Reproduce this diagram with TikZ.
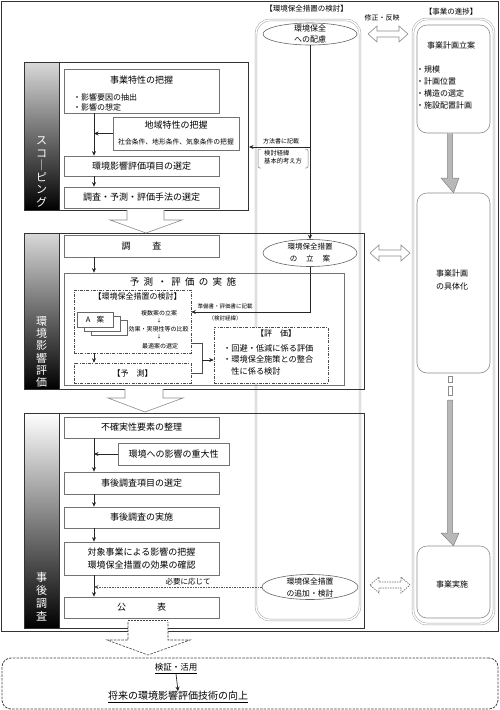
\documentclass[tikz,border=0pt]{standalone}
\usepackage{fontspec}
\newfontfamily\jp{Noto Sans CJK JP}
\usetikzlibrary{arrows.meta,calc,shapes.geometric}
\newcommand{\dbarrow}[4][]{%
  \draw[openarr,#1] (#2,#4) -- (#2+9,#4-8) -- (#2+9,#4-3) -- (#3-9,#4-3) -- (#3-9,#4-8) -- (#3,#4)
    -- (#3-9,#4+8) -- (#3-9,#4+3) -- (#2+9,#4+3) -- (#2+9,#4+8) -- cycle;}
\begin{document}
\begin{tikzpicture}[x=1pt,y=-1pt,
  every node/.style={inner sep=0pt, font=\jp},
  fs/.style={font=\jp\fontsize{#1}{#1}\selectfont},
  secbox/.style={draw=black!80, line width=1pt},
  ibox/.style={draw=black!55, line width=0.7pt, fill=white},
  colbox/.style={draw=black!35, line width=0.5pt, double=white, double distance=1.4pt, rounded corners=14pt},
  rbox/.style={draw=black!45, line width=0.6pt, rounded corners=10pt, fill=white},
  ell/.style={ellipse, draw=black!60, line width=0.6pt, fill=white},
  arr/.style={-{Stealth[length=4.5pt,width=4pt]}, line width=0.7pt, black!85},
  dd/.style={draw=black!70, line width=0.6pt, dash pattern=on 3pt off 1.2pt on 1pt off 1.2pt},
  openarr/.style={draw=black!45, line width=0.6pt, fill=white},
  grayarr/.style={draw=black!50, line width=0.5pt, fill=black!28},
  vtxt/.style={text=white, align=center, font=\jp\fontsize{11}{12.3}\selectfont}]
\useasboundingbox (0,0) rectangle (500,710);

% outer frame
\draw[black!80, line width=1pt] (1,1) rectangle (498,631);

% columns
\draw[colbox] (256,20) rectangle (360,620);
\draw[colbox] (413,19) rectangle (494,624);
\node[fs=7.5] (lab1) at (306.5,9) {【環境保全措置の検討】};
\node[fs=7.5] (lab2) at (451,12) {【事業の進捗】};
\node[fs=7] (lab3) at (382,18) {修正・反映};

% section bars
\shade[top color=black!15, bottom color=black] (24,62) rectangle (59,210);
\shade[top color=black!15, bottom color=black] (24,233) rectangle (59,389);
\shade[top color=white, bottom color=black] (24,413) rectangle (59,628);
\node[secbox, minimum width=224pt, minimum height=148pt, anchor=north west] (s1) at (24,62) {};
\node[secbox, minimum width=340pt, minimum height=156pt, anchor=north west] (s2) at (24,233) {};
\node[secbox, minimum width=340pt, minimum height=215pt, anchor=north west] (s3) at (24,413) {};
\draw[black!80, line width=1pt] (59,62) -- (59,210) (59,233) -- (59,389) (59,413) -- (59,628);
\node[vtxt] (v1) at (41.5,172) {ス\\コ\\｜\\ピ\\ン\\グ};
\node[vtxt] (v2) at (41.5,352) {環\\境\\影\\響\\評\\価};
\node[vtxt, font=\jp\fontsize{11}{13}\selectfont] (v3) at (41.5,597) {事\\後\\調\\査};

\coordinate (vx) at (94,0);

% ---- scoping
\node[ibox, minimum width=155pt, minimum height=44pt] (b1) at (141.5,91) {};
\node[fs=9] (b1t) at (141.5,80) {事業特性の把握};
\node[anchor=west, align=left, font=\jp\fontsize{8}{10}\selectfont] (b1a) at (73,102) {・影響要因の抽出\\・影響の想定};
\node[ibox, minimum width=126pt, minimum height=33pt] (b2) at (176,133.5) {};
\node[fs=9] (b2t) at (176,125) {地域特性の把握};
\node[fs=6.8] (b2s) at (176,141.5) {社会条件、地形条件、気象条件の把握};
\node[ibox, minimum width=155pt, minimum height=20pt, fs=9] (b3) at (141.5,166) {環境影響評価項目の選定};
\node[ibox, minimum width=155pt, minimum height=21pt, fs=9] (b4) at (141.5,197.5) {調査・予測・評価手法の選定};
\draw[arr] (b1.south -| vx) -- (b3.north -| vx);
\draw[arr] (b2.west) -- (b2.west -| vx);
\draw[arr] (b3.south -| vx) -- (b4.north -| vx);

\draw[openarr] (127,210) -- (127,220) -- (110,220) -- (146,233) -- (182,220) -- (164,220) -- (164,210);

% ---- assessment
\node[ibox, minimum width=155pt, minimum height=22pt, fs=9] (b5) at (141.5,246) {調\hspace{22pt}査};
\node[draw=black!55, line width=0.7pt, minimum width=280pt, minimum height=112pt] (b6) at (204,329) {};
\node[fs=9.5] (b6t) at (183,282) {予\hspace{4.3pt}測\hspace{4.3pt}・\hspace{4.3pt}評\hspace{4.3pt}価\hspace{4.3pt}の\hspace{4.3pt}実\hspace{4.3pt}施};
\draw[arr] (b5.south -| vx) -- (b6.north -| vx);

\node[dd, fill=white, minimum width=117pt, minimum height=63pt] (b7) at (132.5,321.5) {};
\node[fs=8] (b7t) at (137.5,296.5) {【環境保全措置の検討】};
\draw[black!60, fill=white, line width=0.5pt] (91,320) rectangle (127,335);
\draw[black!60, fill=white, line width=0.5pt] (84,316) rectangle (120,331);
\node[draw=black!60, fill=white, line width=0.5pt, minimum width=36pt, minimum height=15pt, fs=7.5] (aan) at (95,319.5) {A\hspace{6pt}案};
\node[fs=6] (k1) at (159,313) {複数案の立案};
\node[fs=5] (k2) at (159,321) {↓};
\node[fs=6] (k3) at (158.5,329) {効果・実現性等の比較};
\node[fs=5] (k4) at (159,337) {↓};
\node[fs=6] (k5) at (160,346) {最適案の選定};

\node[dd, fill=white, minimum width=117pt, minimum height=20pt, fs=8] (b8) at (132.5,373) {【予\hspace{8pt}測】};
\draw[arr] (b7.south -| vx) -- (b8.north -| vx);

\node[dd, fill=white, minimum width=114pt, minimum height=56pt] (b9) at (271,355) {};
\node[fs=8] (b9t) at (276,333) {【評\hspace{8pt}価】};
\node[anchor=west, align=left, font=\jp\fontsize{8.2}{11.5}\selectfont] (b9a) at (223,359.5) {・回避・低減に係る評価\\・環境保全施策との整合\\\hspace{8.2pt}性に係る検討};

\coordinate (by1) at (0,343);
\coordinate (brk) at (202,360);
\draw[black!70, line width=0.6pt] (b7.east |- by1) -- (202,343) -- (202,373) -- (b8.east);
\draw[arr] (brk) -- (brk -| b9.west);

\draw[openarr] (125,389) -- (125,398) -- (108,398) -- (145,412) -- (183,398) -- (163,398) -- (163,389);

% ---- middle column
\node[ell, minimum width=94pt, minimum height=22pt] (e1) at (310,34) {};
\node[align=center, font=\jp\fontsize{8}{11}\selectfont] (e1t) at (310,34) {環境保全\\への配慮};
\node[ell, minimum width=94pt, minimum height=27pt] (e2) at (310,253) {};
\node[align=center, font=\jp\fontsize{7.5}{12}\selectfont] (e2t) at (310,252.5) {環境保全措置\\の\hspace{9pt}立\hspace{9pt}案};
\node[ell, minimum width=96pt, minimum height=25pt] (e3) at (310,587) {};
\node[align=center, font=\jp\fontsize{7.8}{12}\selectfont] (e3t) at (310,588) {環境保全措置\\の追加・検討};

\draw[arr] (e1.south) -- (e2.north);
\coordinate (m1) at (310,147);
\draw[arr] (m1) -- (m1 -| s1.east);
\node[fs=6] (hou) at (281,141.5) {方法書に記載};
\node[anchor=west, align=left, font=\jp\fontsize{6.3}{8.5}\selectfont] (kei) at (264,157) {検討経緯\\基本的考え方};
\draw[black!50, line width=0.5pt, rounded corners=2pt] (261,149) -- (258,149) -- (258,168) -- (261,168);
\draw[black!50, line width=0.5pt, rounded corners=2pt] (305,149) -- (308,149) -- (308,168) -- (305,168);

\coordinate (m2) at (310,312);
\draw[arr] (e2.south) -- (m2) -- (m2 -| b7.east);
\node[fs=5.5] (jun) at (225,306.5) {準備書・評価書に記載};
\node[fs=5.5] (kk) at (225,318.5) {（検討経緯）};

% ---- follow-up
\node[ibox, minimum width=155pt, minimum height=21pt, fs=9] (b10) at (141.5,427.5) {不確実性要素の整理};
\node[ibox, minimum width=111pt, minimum height=22pt, fs=9] (b11) at (173.5,454) {環境への影響の重大性};
\node[ibox, minimum width=155pt, minimum height=22pt, fs=9] (b12) at (141.5,483) {事後調査項目の選定};
\node[ibox, minimum width=155pt, minimum height=21pt, fs=9] (b13) at (141.5,517.5) {事後調査の実施};
\node[ibox, minimum width=155pt, minimum height=33pt, align=center, font=\jp\fontsize{9}{13}\selectfont] (b14) at (141.5,558.5) {対象事業による影響の把握\\環境保全措置の効果の確認};
\node[ibox, minimum width=155pt, minimum height=21pt, fs=9] (b15) at (141.5,607.5) {公\hspace{31pt}表};
\draw[arr] (b10.south -| vx) -- (b12.north -| vx);
\draw[arr] (b11.west) -- (b11.west -| vx);
\draw[arr] (b12.south -| vx) -- (b13.north -| vx);
\draw[arr] (b13.south -| vx) -- (b14.north -| vx);
\draw[arr] (b14.south -| vx) -- (b15.north -| vx);
\draw[arr, black!65, dash pattern=on 1.6pt off 1pt] (e3.west) -- (e3.west -| vx);
\node[fs=7.5] (hy) at (188,582) {必要に応じて};

% dashed open arrow
\draw[black!75, line width=0.6pt, dash pattern=on 2pt off 1pt] (128,620.5) -- (168,620.5);
\draw[black!75, line width=0.6pt, dash pattern=on 2.5pt off 1.2pt, fill=white] (128,622) -- (128,640) -- (107,640) -- (148,655) -- (190,640) -- (168,640) -- (168,622);

% bottom box
\node[draw=black!75, dash pattern=on 2.5pt off 1.2pt, line width=0.8pt, rounded corners=9pt, minimum width=496pt, minimum height=51pt] (bot) at (250,683.5) {};
\node[fs=8.5] (kv) at (176,668.5) {\underline{検証・活用}};
\node[fs=10] (fut) at (178,697) {\underline{将来の環境影響評価技術の向上}};
\draw[arr] (kv.south) -- (fut.north);

% ---- right column
\node[rbox, minimum width=73pt, minimum height=108pt] (r1) at (453.5,79) {};
\node[fs=8] (r1t) at (451,45) {事業計画立案};
\node[anchor=west, align=left, font=\jp\fontsize{8}{12}\selectfont] (r1b) at (416,87) {・規模\\・計画位置\\・構造の選定\\・施設配置計画};
\node[rbox, minimum width=73pt, minimum height=180pt] (r2) at (453.5,283) {};
\node[align=center, font=\jp\fontsize{8}{13}\selectfont] (r2t) at (452,280) {事業計画\\の具体化};
\node[rbox, minimum width=73pt, minimum height=72pt] (r3) at (453.5,582) {};
\node[fs=8] (r3t) at (452,584) {事業実施};

\draw[grayarr] (r1.south -| 447.5,0) -- (447.5,178) -- (441,178) -- (r2.north) -- (459,178) -- (452.5,178) -- (r1.south -| 452.5,0);
\draw[black!45, line width=0.5pt] (448,376) rectangle (452,382);
\draw[black!45, line width=0.5pt] (448,386) rectangle (452,395);
\draw[grayarr] (447.5,400) -- (447.5,533) -- (441,533) -- (r3.north) -- (459,533) -- (452.5,533) -- (452.5,400) -- cycle;

% double arrows
\dbarrow{368}{408}{34}
\dbarrow{370}{410}{253}
\dbarrow[dash pattern=on 1.5pt off 1pt, draw=black!60]{370}{410}{585}
\end{tikzpicture}
\end{document}
